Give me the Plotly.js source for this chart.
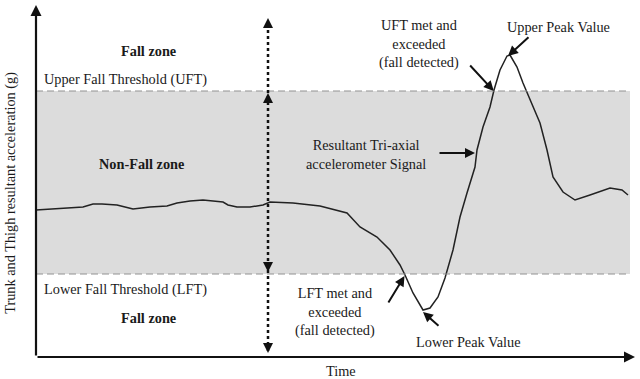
<!DOCTYPE html>
<html><head><meta charset="utf-8">
<script src="https://cdn.plot.ly/plotly-3.0.1.min.js"></script>
<style>html,body{margin:0;padding:0;background:#fff}#chart{width:640px;height:379px}</style>
</head><body><div id="chart"></div>
<script>
// Time (arbitrary units) and resultant acceleration (arbitrary g units)
const time = [0, 0.27, 0.47, 0.57, 0.66, 0.81, 0.97, 1.14, 1.31, 1.41, 1.54, 1.67, 1.79, 1.87, 1.92, 2.01, 2.14, 2.27, 2.34, 2.57, 2.84, 3.11, 3.24, 3.41, 3.54, 3.64, 3.69, 3.77, 3.87, 3.94, 4.02, 4.09, 4.17, 4.24, 4.31, 4.39, 4.41, 4.47, 4.54, 4.58, 4.64, 4.71, 4.74, 4.81, 4.87, 4.94, 5.04, 5.11, 5.17, 5.27, 5.39, 5.54, 5.74, 5.86, 5.92];
const accel = [1.47, 1.49, 1.50, 1.53, 1.53, 1.52, 1.48, 1.50, 1.51, 1.54, 1.56, 1.57, 1.56, 1.55, 1.52, 1.50, 1.50, 1.52, 1.55, 1.54, 1.51, 1.44, 1.30, 1.20, 1.07, 0.92, 0.82, 0.64, 0.47, 0.49, 0.60, 0.79, 1.07, 1.40, 1.64, 1.90, 2.07, 2.30, 2.50, 2.67, 2.87, 3.01, 3.02, 2.90, 2.74, 2.57, 2.34, 2.07, 1.80, 1.65, 1.57, 1.62, 1.69, 1.67, 1.62];
const upperFallThreshold = 2.66;
const lowerFallThreshold = 0.83;
const markerTime = 2.32;
const xMax = 5.99, yMax = 3.52, bandEnd = 5.94;

const labels = {
  fallZone: '<b>Fall zone</b>',
  nonFall: '<b>Non-Fall zone</b>',
  uft: 'Upper Fall Threshold (UFT)',
  lft: 'Lower Fall Threshold (LFT)',
  uftMet: 'UFT met and<br>exceeded<br>(fall detected)',
  lftMet: 'LFT met and<br>exceeded<br>(fall detected)',
  upperPeak: 'Upper Peak Value',
  lowerPeak: 'Lower Peak Value',
  signal: 'Resultant Tri-axial<br>accelerometer Signal',
  xTitle: 'Time',
  yTitle: 'Trunk and Thigh resultant acceleration (g)'
};

// derived points on the curve
let iMax = 0, iMin = 0;
accel.forEach((v, i) => { if (v > accel[iMax]) iMax = i; if (v < accel[iMin]) iMin = i; });
function crossing(th, fromIdx, dir) {
  for (let i = fromIdx; i < accel.length - 1; i++) {
    const a = accel[i], b = accel[i + 1];
    if ((dir < 0 && a >= th && b < th) || (dir > 0 && a <= th && b > th)) {
      const f = (th - a) / (b - a);
      return [time[i] + f * (time[i + 1] - time[i]), th];
    }
  }
  return [0, th];
}
const lftCross = crossing(lowerFallThreshold, 0, -1);
const uftCross = crossing(upperFallThreshold, iMin, 1);

const serif = '"Liberation Serif", "DejaVu Serif", serif';
const txt = (x, y, text, extra) => Object.assign({
  x, y, xref: 'x', yref: 'y', text, showarrow: false,
  xanchor: 'center', yanchor: 'middle',
  font: {family: serif, size: 14.3, color: '#1a1a1a'}
}, extra || {});
const arr = (x, y, ax, ay, extra) => Object.assign({
  x, y, ax, ay, xref: 'x', yref: 'y', text: '', showarrow: true,
  arrowhead: 2, arrowsize: 1, arrowwidth: 2, arrowcolor: '#111', standoff: 0
}, extra || {});

const annotations = [
  txt(1.12, 3.06, labels.fallZone),
  txt(0.06, 2.78, labels.uft, {xanchor: 'left'}),
  txt(1.05, 1.93, labels.nonFall),
  txt(0.06, 0.68, labels.lft, {xanchor: 'left'}),
  txt(1.12, 0.39, labels.fallZone),
  txt(3.83, 3.13, labels.uftMet),
  txt(5.22, 3.30, labels.upperPeak),
  txt(3.30, 2.03, labels.signal),
  txt(2.99, 0.45, labels.lftMet),
  txt(4.32, 0.15, labels.lowerPeak),
  txt(0.509, -0.04, labels.xTitle, {xref: 'paper', yref: 'paper'}),
  txt(-0.042, 0.466, labels.yTitle, {xref: 'paper', yref: 'paper', textangle: -90}),
  // pointer arrows
  arr(uftCross[0], uftCross[1], -25, -27),
  arr(time[iMax] - 0.02, accel[iMax] - 0.01, 22, -20),
  arr(4.39, 2.04, -37, 0),
  arr(lftCross[0], lftCross[1] - 0.02, -17, 28),
  arr(time[iMin], accel[iMin] - 0.02, 17, 15),
  // dotted marker arrowheads
  arr(markerTime, 3.39, 0, 10),
  arr(markerTime, upperFallThreshold - 0.02, 0, 10),
  arr(markerTime, lowerFallThreshold + 0.02, 0, -10),
  arr(markerTime, 0.04, 0, -10),
  // axes with arrows
  arr(xMax, 0, 0, 0, {axref: 'x', ayref: 'y', arrowwidth: 2.2}),
  arr(0, yMax, 0, 0, {axref: 'x', ayref: 'y', arrowwidth: 2.2})
];

const shapes = [
  {type: 'rect', xref: 'x', yref: 'y', x0: 0, x1: bandEnd, y0: lowerFallThreshold, y1: upperFallThreshold,
   fillcolor: '#dcdcdc', line: {width: 0}, layer: 'below'},
  {type: 'line', xref: 'x', yref: 'y', x0: 0, x1: bandEnd, y0: upperFallThreshold, y1: upperFallThreshold,
   line: {color: '#929292', width: 1.2, dash: '7px,4px'}},
  {type: 'line', xref: 'x', yref: 'y', x0: 0, x1: bandEnd, y0: lowerFallThreshold, y1: lowerFallThreshold,
   line: {color: '#929292', width: 1.2, dash: '7px,4px'}},
  {type: 'line', xref: 'x', yref: 'y', x0: markerTime, x1: markerTime, y0: 0.06, y1: 3.36,
   line: {color: '#111', width: 2.5, dash: 'dot'}}
];

const trace = {x: time, y: accel, type: 'scatter', mode: 'lines',
  line: {color: '#222', width: 1.5}, hoverinfo: 'skip'};

const axisBase = {showgrid: false, zeroline: false, showticklabels: false, ticks: '', showline: false, fixedrange: true};
const layout = {
  width: 640, height: 379,
  margin: {l: 36, r: 5, t: 5, b: 22},
  paper_bgcolor: '#fff', plot_bgcolor: '#fff',
  font: {family: serif},
  showlegend: false,
  xaxis: Object.assign({range: [0, xMax]}, axisBase),
  yaxis: Object.assign({range: [0, yMax]}, axisBase),
  shapes, annotations
};
Plotly.newPlot('chart', [trace], layout, {staticPlot: true});
</script></body></html>
